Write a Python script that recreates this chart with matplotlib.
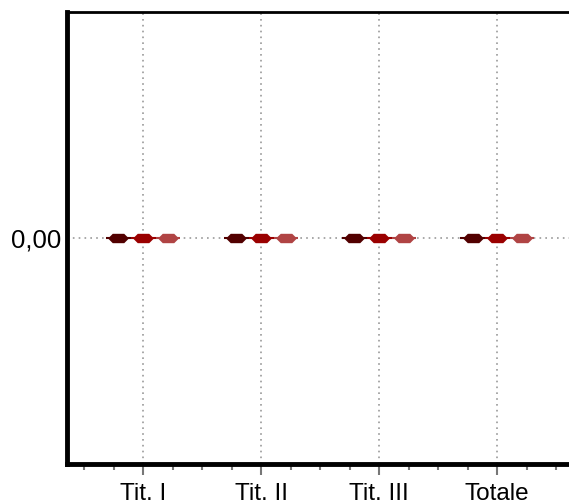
"""Zero-valued grouped bars per title."""
import matplotlib.pyplot as plt
from matplotlib.path import Path
import numpy as np

plt.rcParams['font.family'] = ['Liberation Sans', 'DejaVu Sans']

categories = ['Tit. I', 'Tit. II', 'Tit. III', 'Totale']
series_a = [0.0, 0.0, 0.0, 0.0]
series_b = [0.0, 0.0, 0.0, 0.0]
series_c = [0.0, 0.0, 0.0, 0.0]
colors = ['#520000', '#9a0000', '#b04444']

# elongated hexagon marker, as the original draws the zero-height bars
hexa = Path([(-1, 0), (-0.55, 0.45), (0.55, 0.45), (1, 0),
             (0.55, -0.45), (-0.55, -0.45), (-1, 0)])

fig = plt.figure(figsize=(5.69, 5.04), dpi=100)
ax = fig.add_axes([0.1178, 0.079, 0.89, 0.897])

x = np.arange(len(categories))
offsets = [-0.21, 0.0, 0.21]
for vals, off, col in zip([series_a, series_b, series_c], offsets, colors):
    ax.bar(x + off, vals, width=0.21, color=col, edgecolor=col, linewidth=1.5, zorder=3)
    ax.plot(x + off, vals, linestyle='none', marker=hexa, markersize=15,
            color=col, markeredgewidth=0, zorder=4)

ax.set_xlim(-0.645, 3.645)
ax.set_ylim(-1, 1)
ax.set_xticks(x)
ax.set_xticklabels(categories, fontsize=17.5)
ax.set_xticks(np.arange(-0.5, 3.75, 0.25)[[i for i in range(17) if i % 4 != 2]], minor=True)
ax.set_yticks([0])
ax.set_yticklabels(['0,00'], fontsize=18.5)

ax.grid(True, which='major', color='#999999', linestyle=(0, (1, 2.5)), linewidth=1.2, zorder=0)
ax.tick_params(axis='x', which='major', length=8, width=1.5, color='#777777', pad=5.5)
ax.tick_params(axis='x', which='minor', length=4, width=1.5, color='#777777')
ax.tick_params(axis='y', length=0, pad=4)

for side in ['left', 'bottom']:
    ax.spines[side].set_linewidth(3.5)
    ax.spines[side].set_color('black')
ax.spines['top'].set_linewidth(2)
ax.spines['right'].set_visible(False)

plt.savefig('out.png', dpi=100)
